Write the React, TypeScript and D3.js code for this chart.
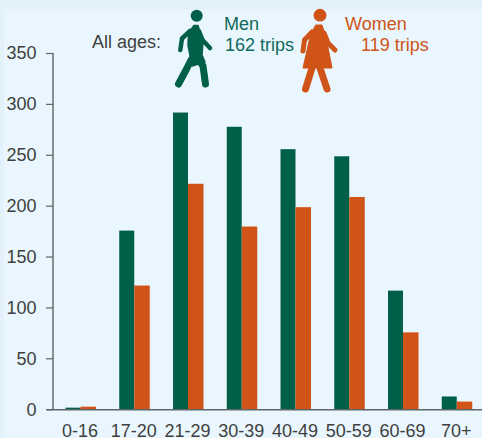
import React from "react";
import * as d3 from "d3";

const categories = ["0-16", "17-20", "21-29", "30-39", "40-49", "50-59", "60-69", "70+"];
const men = [2, 176, 292, 278, 256, 249, 117, 13];
const women = [3, 122, 222, 180, 199, 209, 76, 8];
const yTicks = [0, 50, 100, 150, 200, 250, 300, 350];

const GREEN = "#005f49";
const ORANGE = "#d05418";
const TEXT = "#3f3f3f";
const FONT = "'Liberation Sans', Arial, sans-serif";

export default function App() {
  const y = d3.scaleLinear().domain([0, 350]).range([409.7, 53.5]);
  const x = d3.scalePoint<string>().domain(categories).range([80.5, 456.75]);
  const cx = (c: string) => x(c) as number;
  const barW = 15;
  const line = d3.line();
  return (
    <svg width={482} height={438} style={{ position: "fixed", left: 0, top: 0 }} fontFamily={FONT}>
      <rect width={482} height={438} fill="#e3f2fa" />
      <rect x={4} y={9} width={478} height={429} fill="#e9f6fd" />

      {categories.map((c, i) => (
        <g key={c}>
          <rect x={cx(c) - barW} y={y(men[i])} width={barW} height={y(0) - y(men[i])} fill={GREEN} />
          <rect x={cx(c)} y={y(women[i])} width={barW + 0.5} height={y(0) - y(women[i])} fill={ORANGE} />
          <text x={cx(c) - 0.5} y={436.5} textAnchor="middle" fontSize={18} fill={TEXT}>{c}</text>
        </g>
      ))}

      <line x1={53} x2={53} y1={y(350) - 0.5} y2={y(0)} stroke="#5f6468" strokeWidth={1.4} />
      <line x1={47} x2={482} y1={y(0)} y2={y(0)} stroke="#5f6468" strokeWidth={1.4} />
      {yTicks.map((t) => (
        <g key={t}>
          <line x1={46} x2={53} y1={y(t)} y2={y(t)} stroke="#5f6468" strokeWidth={1.2} />
          <text x={36.5} y={y(t) + 5.8} textAnchor="end" fontSize={18} fill={TEXT}>{t}</text>
        </g>
      ))}

      <text x={92} y={48} fontSize={18} fill={TEXT}>All ages:</text>
      <text x={224} y={30} fontSize={18} fill="#106a5c">Men</text>
      <text x={225} y={51} fontSize={18} fill="#106a5c">162 trips</text>
      <text x={345} y={30} fontSize={18} fill={ORANGE}>Women</text>
      <text x={361} y={51} fontSize={18} fill={ORANGE}>119 trips</text>

      <g fill="none" stroke={GREEN} strokeLinecap="round" strokeLinejoin="round">
        <circle cx={196.7} cy={15.7} r={6} fill={GREEN} stroke="none" />
        <path d={line([[190, 31], [182, 38.5], [180.3, 50]])!} strokeWidth={4.5} />
        <path d={line([[199, 31], [202.5, 40], [210, 48]])!} strokeWidth={4.5} />
        <path
          d={line([[194, 25.5], [198, 25.5], [203, 42], [202, 55], [205, 62], [192, 66], [188, 45], [188.5, 33]])! + "Z"}
          fill={GREEN}
          strokeWidth={1.5}
        />
        <path d={line([[191, 60], [186, 70], [178.5, 84]])!} strokeWidth={7} />
        <path d={line([[197, 57], [203, 66], [205.5, 84]])!} strokeWidth={7} />
      </g>

      <g fill="none" stroke={ORANGE} strokeLinecap="round" strokeLinejoin="round">
        <circle cx={320} cy={15.2} r={6.4} fill={ORANGE} stroke="none" />
        <path d={line([[316, 25], [322, 25], [326, 37], [332, 68], [303, 68], [310.5, 35]])! + "Z"} fill={ORANGE} strokeWidth={1} />
        <path d={line([[312, 32], [304.5, 40], [303, 51]])!} strokeWidth={5} />
        <path d={line([[324, 33], [328, 43], [335, 50]])!} strokeWidth={5} />
        <path d={line([[312, 68], [305.5, 89]])!} strokeWidth={7} />
        <path d={line([[320, 68], [327, 89]])!} strokeWidth={7} />
      </g>
    </svg>
  );
}
